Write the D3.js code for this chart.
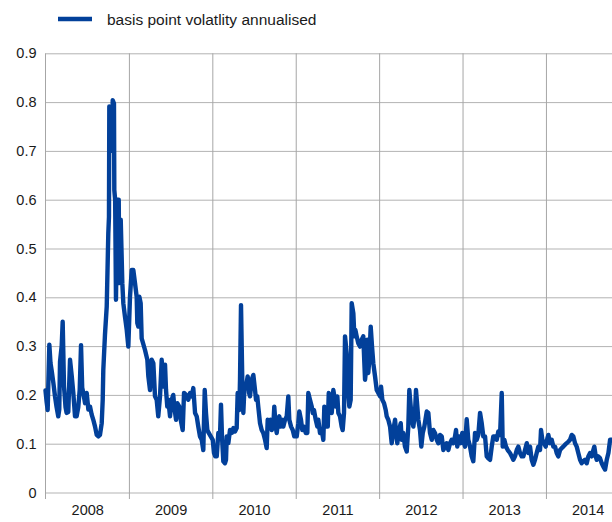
<!DOCTYPE html>
<html>
<head>
<meta charset="utf-8">
<script src="https://cdn.jsdelivr.net/npm/d3@7/dist/d3.min.js"></script>
<style>
  html, body { margin: 0; padding: 0; background: #fff; }
  svg { display: block; }
  text { font-family: "Liberation Sans", Arial, sans-serif; fill: #1a1a1a; }
</style>
</head>
<body>
<svg id="chart" width="612" height="522"></svg>
<script>
// ---- data ----
const seriesName = "basis point volatlity annualised";
const yearLabels = ["2008", "2009", "2010", "2011", "2012", "2013", "2014"];
const yTicks = [0, 0.1, 0.2, 0.3, 0.4, 0.5, 0.6, 0.7, 0.8, 0.9];
const xDomain = [2008, 2014.792];
// [fractional year, value]
const volatility = [
  [2008.000,0.209],[2008.014,0.185],[2008.026,0.169],[2008.046,0.303],[2008.060,0.265],[2008.074,0.250],[2008.094,0.225],
  [2008.114,0.197],[2008.133,0.175],[2008.153,0.156],[2008.165,0.170],[2008.174,0.268],[2008.194,0.300],[2008.206,0.350],
  [2008.222,0.217],[2008.240,0.175],[2008.253,0.163],[2008.273,0.165],[2008.294,0.272],[2008.314,0.240],[2008.333,0.205],
  [2008.354,0.156],[2008.373,0.156],[2008.393,0.175],[2008.410,0.210],[2008.426,0.302],[2008.440,0.215],[2008.453,0.204],
  [2008.474,0.183],[2008.494,0.204],[2008.514,0.170],[2008.534,0.176],[2008.553,0.160],[2008.573,0.149],[2008.594,0.135],
  [2008.614,0.118],[2008.634,0.115],[2008.653,0.118],[2008.674,0.142],[2008.686,0.190],[2008.693,0.251],[2008.713,0.323],
  [2008.734,0.381],[2008.753,0.531],[2008.761,0.565],[2008.765,0.791],[2008.785,0.780],[2008.795,0.700],[2008.806,0.804],
  [2008.821,0.797],[2008.825,0.620],[2008.835,0.600],[2008.845,0.395],[2008.861,0.600],[2008.878,0.600],[2008.885,0.429],
  [2008.902,0.559],[2008.921,0.429],[2008.933,0.388],[2008.953,0.360],[2008.974,0.333],[2008.993,0.299],[2009.013,0.401],
  [2009.034,0.456],[2009.053,0.456],[2009.073,0.429],[2009.093,0.401],[2009.101,0.347],[2009.113,0.340],[2009.125,0.401],
  [2009.141,0.388],[2009.153,0.316],[2009.193,0.292],[2009.221,0.272],[2009.233,0.238],[2009.253,0.210],[2009.273,0.272],
  [2009.293,0.265],[2009.313,0.197],[2009.333,0.190],[2009.352,0.156],[2009.373,0.197],[2009.393,0.272],[2009.412,0.217],
  [2009.433,0.262],[2009.445,0.210],[2009.460,0.176],[2009.472,0.190],[2009.493,0.156],[2009.513,0.190],[2009.532,0.200],
  [2009.544,0.176],[2009.565,0.149],[2009.580,0.183],[2009.604,0.176],[2009.621,0.149],[2009.645,0.128],[2009.661,0.204],
  [2009.685,0.200],[2009.712,0.190],[2009.733,0.204],[2009.753,0.197],[2009.772,0.214],[2009.793,0.163],[2009.813,0.156],
  [2009.832,0.135],[2009.852,0.115],[2009.873,0.108],[2009.892,0.087],[2009.909,0.210],[2009.924,0.163],[2009.940,0.128],
  [2009.957,0.122],[2009.981,0.115],[2010.005,0.108],[2010.020,0.081],[2010.036,0.074],[2010.053,0.074],[2010.072,0.122],
  [2010.092,0.115],[2010.104,0.180],[2010.116,0.115],[2010.132,0.064],[2010.152,0.060],[2010.164,0.067],[2010.173,0.115],
  [2010.192,0.101],[2010.212,0.128],[2010.233,0.122],[2010.252,0.132],[2010.272,0.125],[2010.292,0.132],[2010.304,0.204],
  [2010.324,0.169],[2010.332,0.231],[2010.344,0.384],[2010.360,0.224],[2010.372,0.163],[2010.384,0.210],[2010.404,0.217],
  [2010.424,0.238],[2010.440,0.204],[2010.452,0.197],[2010.472,0.231],[2010.492,0.241],[2010.512,0.210],[2010.524,0.190],
  [2010.539,0.197],[2010.551,0.176],[2010.572,0.142],[2010.592,0.128],[2010.611,0.122],[2010.632,0.108],[2010.652,0.091],
  [2010.664,0.149],[2010.680,0.142],[2010.700,0.149],[2010.712,0.128],[2010.731,0.135],[2010.743,0.176],[2010.760,0.135],
  [2010.772,0.122],[2010.791,0.149],[2010.803,0.156],[2010.820,0.135],[2010.839,0.149],[2010.851,0.135],[2010.872,0.149],
  [2010.892,0.156],[2010.911,0.197],[2010.923,0.149],[2010.944,0.135],[2010.964,0.128],[2010.983,0.115],[2011.012,0.115],
  [2011.031,0.142],[2011.043,0.166],[2011.063,0.149],[2011.079,0.128],[2011.099,0.135],[2011.120,0.122],[2011.139,0.122],
  [2011.151,0.204],[2011.171,0.190],[2011.192,0.176],[2011.204,0.163],[2011.219,0.169],[2011.240,0.149],[2011.259,0.135],
  [2011.271,0.149],[2011.291,0.122],[2011.312,0.128],[2011.331,0.108],[2011.343,0.176],[2011.363,0.135],[2011.384,0.135],
  [2011.396,0.204],[2011.411,0.197],[2011.432,0.163],[2011.451,0.210],[2011.463,0.197],[2011.483,0.176],[2011.499,0.197],
  [2011.511,0.163],[2011.531,0.156],[2011.551,0.135],[2011.563,0.128],[2011.579,0.163],[2011.591,0.320],[2011.611,0.286],
  [2011.623,0.217],[2011.643,0.176],[2011.659,0.190],[2011.671,0.388],[2011.691,0.367],[2011.703,0.320],[2011.715,0.333],
  [2011.731,0.320],[2011.750,0.306],[2011.771,0.299],[2011.791,0.313],[2011.810,0.320],[2011.831,0.231],[2011.843,0.251],
  [2011.858,0.313],[2011.870,0.245],[2011.882,0.272],[2011.899,0.340],[2011.915,0.299],[2011.930,0.265],[2011.951,0.238],
  [2011.971,0.210],[2011.990,0.204],[2012.011,0.197],[2012.023,0.217],[2012.038,0.190],[2012.059,0.183],[2012.079,0.169],
  [2012.091,0.156],[2012.110,0.149],[2012.131,0.135],[2012.151,0.101],[2012.170,0.128],[2012.191,0.149],[2012.203,0.122],
  [2012.218,0.101],[2012.238,0.128],[2012.259,0.142],[2012.271,0.108],[2012.290,0.122],[2012.310,0.094],[2012.331,0.084],
  [2012.350,0.135],[2012.362,0.210],[2012.379,0.176],[2012.391,0.149],[2012.410,0.135],[2012.430,0.163],[2012.442,0.210],
  [2012.458,0.176],[2012.470,0.149],[2012.490,0.128],[2012.506,0.094],[2012.523,0.122],[2012.542,0.135],[2012.571,0.166],
  [2012.590,0.163],[2012.610,0.122],[2012.631,0.108],[2012.650,0.128],[2012.670,0.122],[2012.691,0.108],[2012.710,0.101],
  [2012.730,0.118],[2012.751,0.115],[2012.770,0.087],[2012.790,0.094],[2012.810,0.101],[2012.830,0.087],[2012.850,0.101],
  [2012.870,0.108],[2012.889,0.101],[2012.910,0.115],[2012.922,0.128],[2012.937,0.094],[2012.958,0.115],[2012.978,0.101],
  [2012.997,0.122],[2013.018,0.101],[2013.030,0.094],[2013.050,0.150],[2013.069,0.108],[2013.090,0.094],[2013.110,0.074],
  [2013.129,0.064],[2013.150,0.122],[2013.170,0.108],[2013.189,0.118],[2013.210,0.163],[2013.230,0.142],[2013.249,0.115],
  [2013.270,0.115],[2013.290,0.074],[2013.309,0.070],[2013.330,0.067],[2013.350,0.094],[2013.369,0.115],[2013.390,0.115],
  [2013.410,0.108],[2013.429,0.125],[2013.450,0.118],[2013.470,0.204],[2013.482,0.094],[2013.501,0.108],[2013.521,0.094],
  [2013.542,0.087],[2013.569,0.081],[2013.590,0.074],[2013.609,0.067],[2013.629,0.074],[2013.650,0.087],[2013.669,0.094],
  [2013.689,0.081],[2013.710,0.074],[2013.729,0.074],[2013.749,0.087],[2013.770,0.101],[2013.789,0.081],[2013.809,0.094],
  [2013.829,0.067],[2013.849,0.057],[2013.869,0.067],[2013.889,0.081],[2013.909,0.094],[2013.929,0.087],[2013.941,0.128],
  [2013.957,0.108],[2013.977,0.101],[2013.997,0.094],[2014.017,0.111],[2014.029,0.118],[2014.049,0.101],[2014.069,0.108],
  [2014.089,0.094],[2014.109,0.094],[2014.129,0.081],[2014.148,0.074],[2014.169,0.087],[2014.189,0.091],[2014.208,0.094],
  [2014.229,0.098],[2014.249,0.101],[2014.268,0.104],[2014.289,0.108],[2014.309,0.118],[2014.328,0.115],[2014.349,0.101],
  [2014.369,0.094],[2014.388,0.081],[2014.409,0.067],[2014.429,0.060],[2014.448,0.064],[2014.469,0.067],[2014.489,0.060],
  [2014.508,0.074],[2014.529,0.081],[2014.549,0.074],[2014.568,0.087],[2014.580,0.094],[2014.597,0.074],[2014.609,0.067],
  [2014.628,0.074],[2014.649,0.070],[2014.669,0.060],[2014.688,0.053],[2014.709,0.047],[2014.729,0.067],[2014.749,0.081],
  [2014.769,0.108],[2014.792,0.108]
];

// ---- layout ----
const W = 612, H = 522;
const plot = { left: 45.5, right: 612, top: 53.3, bottom: 492.5 };
const lineColor = "#02409a";
const gridColor = "#b3b3b3";

const svg = d3.select("#chart");

const x = d3.scaleLinear().domain(xDomain).range([plot.left, plot.right]);
const y = d3.scaleLinear().domain([0, 0.9]).range([plot.bottom, plot.top]);

// horizontal gridlines + y labels via axis
const yAxis = d3.axisLeft(y)
  .tickValues(yTicks)
  .tickSize(-(plot.right - plot.left))
  .tickPadding(9)
  .tickFormat(d => d === 0 ? "0" : d3.format(".1f")(d));
const gy = svg.append("g")
  .attr("transform", `translate(${plot.left},0)`)
  .call(yAxis);
gy.select(".domain").remove();
gy.selectAll(".tick line").attr("stroke", gridColor).attr("stroke-width", 1);
gy.selectAll(".tick text")
  .style("font-size", "14.5px")
  .style("font-family", "'Liberation Sans', Arial, sans-serif")
  .attr("fill", "#1a1a1a");

// vertical year separators (ticks at year boundaries), extend a bit below zero
const yearBounds = yearLabels.map(l => +l + 1).filter(v => v < xDomain[1]);
const xGrid = d3.axisBottom(x)
  .tickValues(yearBounds)
  .tickSize(-(plot.bottom - plot.top))
  .tickFormat("");
const gx = svg.append("g")
  .attr("transform", `translate(0,${plot.bottom})`)
  .call(xGrid);
gx.select(".domain").remove();
gx.selectAll(".tick line").attr("stroke", "#a6a6a6").attr("y1", 6.5);

// year labels centered in each year interval
const xLab = d3.axisBottom(x)
  .tickValues(yearLabels.map(l => +l + 0.5))
  .tickSize(0)
  .tickPadding(12)
  .tickFormat((d, i) => yearLabels[i]);
const gxl = svg.append("g")
  .attr("transform", `translate(0,${plot.bottom})`)
  .call(xLab);
gxl.select(".domain").remove();
gxl.selectAll(".tick text")
  .style("font-size", "14.5px")
  .style("font-family", "'Liberation Sans', Arial, sans-serif")
  .attr("fill", "#1a1a1a");

// y axis line
svg.append("line")
  .attr("x1", plot.left).attr("x2", plot.left)
  .attr("y1", plot.top).attr("y2", plot.bottom + 6.5)
  .attr("stroke", "#a6a6a6");

// series line
const line = d3.line()
  .x(d => x(d[0]))
  .y(d => y(d[1]))
  .curve(d3.curveLinear);
svg.append("path")
  .datum(volatility)
  .attr("d", line)
  .attr("fill", "none")
  .attr("stroke", lineColor)
  .attr("stroke-width", 4.4)
  .attr("stroke-linejoin", "round")
  .attr("stroke-linecap", "round");

// legend
const lg = svg.append("g");
lg.append("line")
  .attr("x1", 58).attr("x2", 92)
  .attr("y1", 19).attr("y2", 19)
  .attr("stroke", lineColor).attr("stroke-width", 4.5);
lg.append("text")
  .attr("x", 107).attr("y", 24.5)
  .style("font-size", "15.5px")
  .text(seriesName);
</script>
</body>
</html>
